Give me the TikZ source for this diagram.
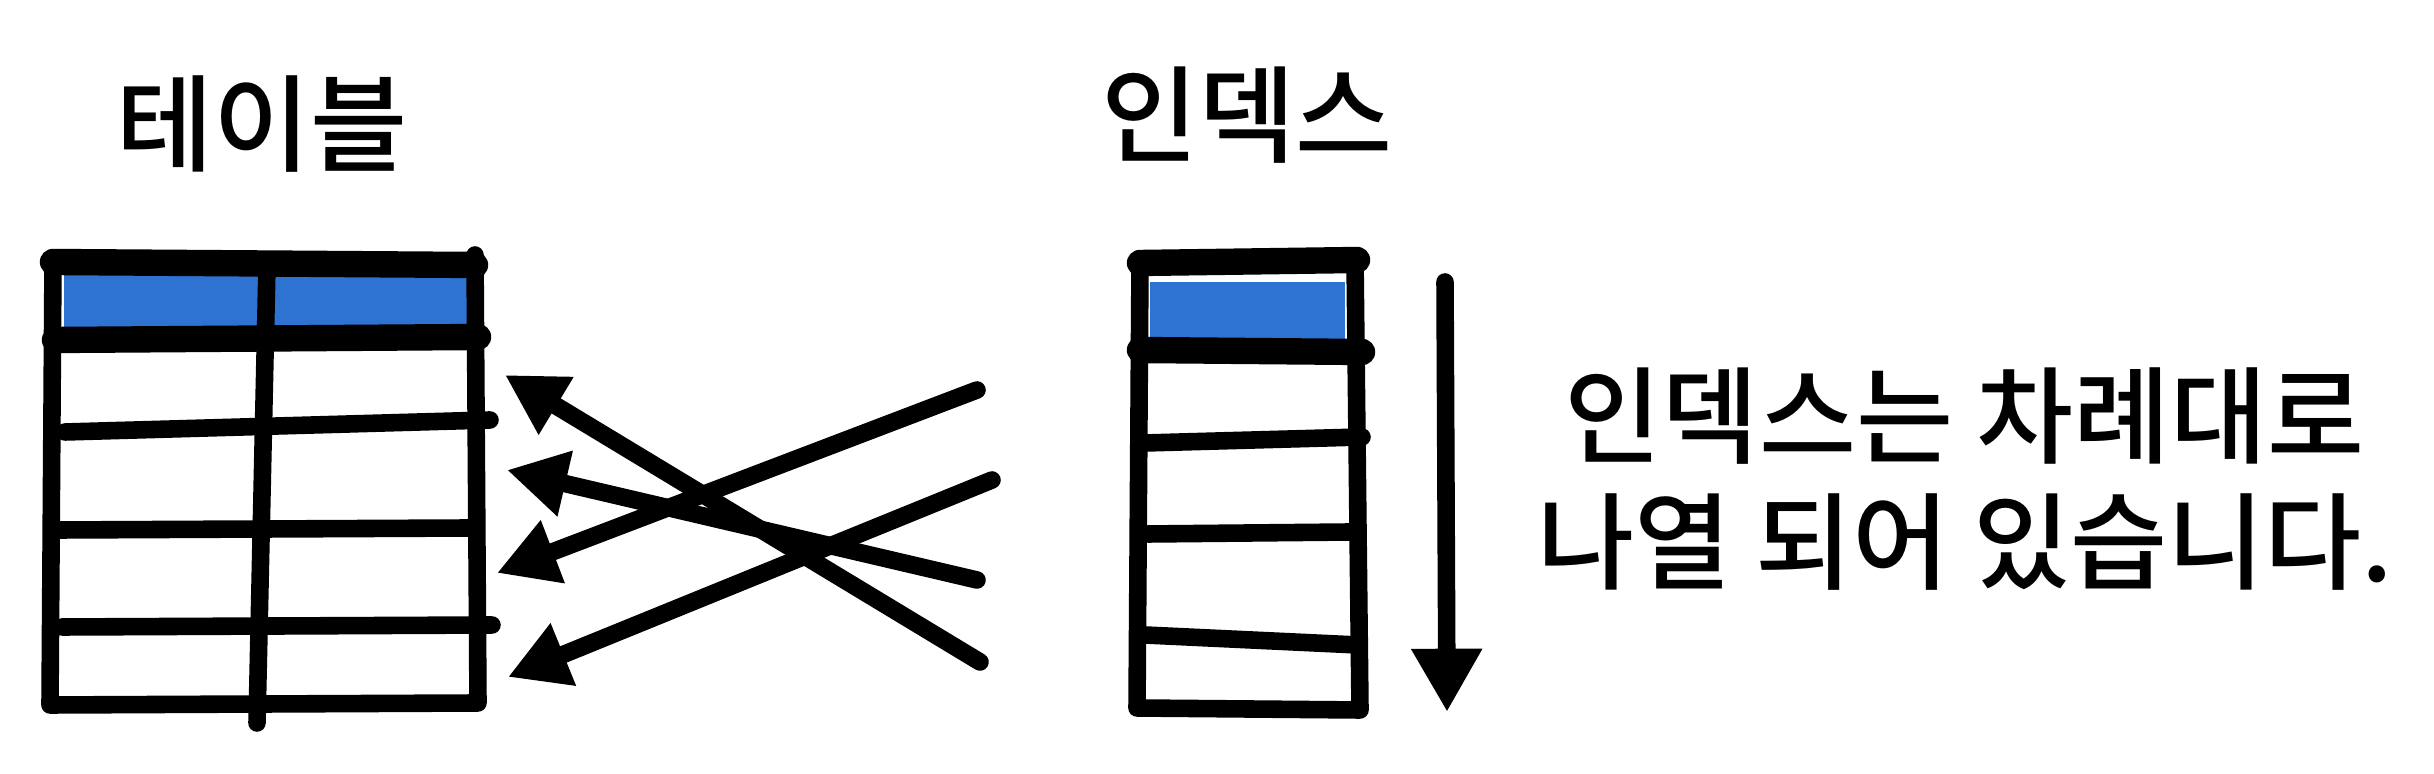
\documentclass[tikz,border=0pt]{standalone}
\usepackage{fontspec}
\setmainfont{Noto Sans CJK KR}[BoldFont={* Medium}]
\usetikzlibrary{arrows.meta}
\definecolor{hdrblue}{RGB}{46, 114, 210}

\begin{document}
\begin{tikzpicture}[x=0.01cm, y=-0.01cm,
                line cap=round, line join=round,
                thin line/.style={line width=5pt},
                thick line/.style={line width=7.5pt},
                link/.style={line width=5pt,
                    -{Triangle[length=17pt, width=18pt]}},
                order/.style={line width=5pt,
                    -{Triangle[length=18pt, width=19pt]}},
                title/.style={font=\bfseries\fontsize{30pt}{34pt}\selectfont},
                note/.style={font=\bfseries\fontsize{30pt}{36pt}\selectfont, align=center}
            ]

            \useasboundingbox (0,0) rectangle (2434,774);

            % Table
            \node[title] (tbltitle) at (262,124) {테이블};
            \fill[hdrblue] (64,272) rectangle (468,332);
            \draw[thin line] (53,262) -- (50,705) -- (478,703) -- (475,255);
            \draw[thick line] (53,262) -- (475,265);
            \draw[thick line] (55,340) -- (478,337);
            \draw[thin line] (267,265) -- (257,723);
            \draw[thin line] (65,432) -- (490,420);
            \draw[thin line] (60,530) -- (470,528);
            \draw[thin line] (62,627) -- (492,625);

            % Index
            \node[title] (idxtitle) at (1247,115) {인덱스};
            \fill[hdrblue] (1150,282) rectangle (1345,342);
            \draw[thin line] (1140,262) -- (1137,708) -- (1360,710) -- (1355,260);
            \draw[thick line] (1140,263) -- (1357,260);
            \draw[thick line] (1140,350) -- (1362,352);
            \draw[thin line] (1145,443) -- (1362,437);
            \draw[thin line] (1148,534) -- (1350,532);
            \draw[thin line] (1145,635) -- (1358,645);

            % Row pointers
            \coordinate (tbl1) at (505,375);
            \coordinate (tbl2) at (507,470);
            \coordinate (tbl3) at (497,573);
            \coordinate (tbl4) at (508,677);
            \coordinate (idx1) at (977,390);
            \coordinate (idx2) at (992,480);
            \coordinate (idx3) at (977,580);
            \coordinate (idx4) at (980,662);
            \draw[link] (idx4) -- (tbl1);
            \draw[link] (idx3) -- (tbl2);
            \draw[link] (idx1) -- (tbl3);
            \draw[link] (idx2) -- (tbl4);

            % Sort order
            \coordinate (ordtop) at (1445,282);
            \coordinate (ordbot) at (1447,712);
            \draw[order] (ordtop) -- (ordbot);
            \node[note] (idxnote) at (1965,479)
                {인덱스는 차례대로\\나열 되어 있습니다.};

\end{tikzpicture}
\end{document}
